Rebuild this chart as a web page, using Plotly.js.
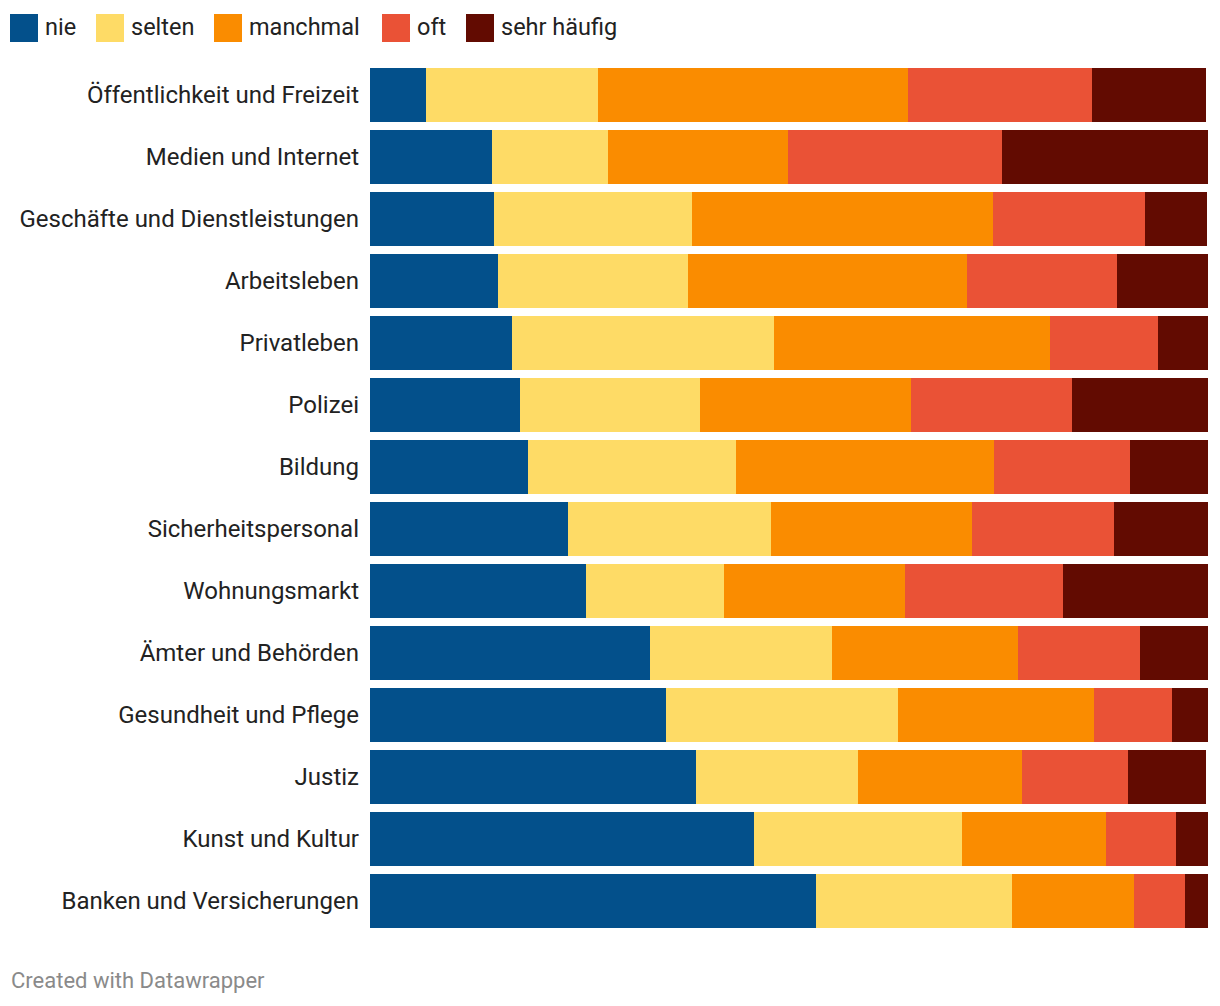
<!DOCTYPE html>
<html>
<head>
<meta charset="utf-8">
<script src="https://cdn.plot.ly/plotly-3.0.1.min.js"></script>
<style>
  html, body { margin: 0; padding: 0; background: #fff; }
  #chart { width: 1220px; height: 1006px; }
</style>
</head>
<body>
<div id="chart"></div>
<script>
// ---- Data (percent shares) ----
const categories = [
  "Öffentlichkeit und Freizeit",
  "Medien und Internet",
  "Geschäfte und Dienstleistungen",
  "Arbeitsleben",
  "Privatleben",
  "Polizei",
  "Bildung",
  "Sicherheitspersonal",
  "Wohnungsmarkt",
  "Ämter und Behörden",
  "Gesundheit und Pflege",
  "Justiz",
  "Kunst und Kultur",
  "Banken und Versicherungen"
];
const seriesNames = ["nie", "selten", "manchmal", "oft", "sehr häufig"];
const nie        = [6.7, 14.6, 14.8, 15.3, 16.9, 17.9, 18.9, 23.6, 25.8, 33.4, 35.3, 38.9, 45.8, 53.2];
const selten     = [20.5, 13.8, 23.6, 22.7, 31.3, 21.5, 24.8, 24.3, 16.5, 21.7, 27.7, 19.3, 24.8, 23.4];
const manchmal   = [37.0, 21.5, 36.0, 33.2, 32.9, 25.1, 30.8, 23.9, 21.5, 22.2, 23.4, 19.6, 17.2, 14.6];
const oft        = [22.0, 25.5, 18.1, 17.9, 12.9, 19.3, 16.2, 17.0, 18.9, 14.6, 9.3, 12.6, 8.4, 6.0];
const sehrHaeufig= [13.6, 24.6, 7.4, 11.0, 6.0, 16.2, 9.3, 11.2, 17.4, 8.1, 4.3, 9.4, 3.8, 2.9];

const seriesValues = [nie, selten, manchmal, oft, sehrHaeufig];
const colors = ["#03508B", "#FEDB66", "#FA8C00", "#EA5236", "#620B01"];

// ---- Layout geometry (pixels) ----
const W = 1220, H = 1006;
const M = {l: 370, r: 12, t: 64, b: 74};
const plotW = W - M.l - M.r, plotH = H - M.t - M.b;
const px2x = px => (px - M.l) / plotW;
const py2y = py => (H - M.b - py) / plotH;

const traces = seriesNames.map((name, i) => ({
  type: "bar",
  orientation: "h",
  name: name,
  y: categories,
  x: seriesValues[i],
  marker: {color: colors[i], line: {width: 0}},
  hoverinfo: "name+x+y",
  showlegend: false
}));

// ---- Custom legend (squares + labels) ----
const legendSquares = [10, 96, 214, 382, 466];
const shapes = [];
const annotations = [];
seriesNames.forEach((name, i) => {
  const x0 = legendSquares[i];
  shapes.push({
    type: "rect", xref: "paper", yref: "paper",
    x0: px2x(x0), x1: px2x(x0 + 28),
    y0: py2y(42), y1: py2y(14),
    fillcolor: colors[i], line: {width: 0}
  });
  annotations.push({
    xref: "paper", yref: "paper",
    x: px2x(x0 + 33), y: py2y(27),
    xanchor: "left", yanchor: "middle",
    text: name, showarrow: false,
    font: {family: "Roboto, sans-serif", size: 23.5, color: "#222222"}
  });
});
annotations.push({
  xref: "paper", yref: "paper",
  x: px2x(9), y: py2y(980),
  xanchor: "left", yanchor: "middle",
  text: "Created with Datawrapper", showarrow: false,
  font: {family: "Roboto, sans-serif", size: 22, color: "#8a8a8a"}
});

const layout = {
  width: W, height: H,
  margin: M,
  barmode: "stack",
  bargap: 8 / 62,
  paper_bgcolor: "#ffffff",
  plot_bgcolor: "#ffffff",
  showlegend: false,
  font: {family: "Roboto, sans-serif", color: "#222222"},
  xaxis: {
    range: [0, 100],
    showgrid: false, zeroline: false, showline: false,
    showticklabels: false, ticks: "", fixedrange: true
  },
  yaxis: {
    type: "category",
    categoryorder: "array",
    categoryarray: categories,
    autorange: "reversed",
    showgrid: false, zeroline: false, showline: false,
    ticks: "",
    ticklabelstandoff: 10,
    tickfont: {family: "Roboto, sans-serif", size: 24, color: "#222222"},
    fixedrange: true
  },
  shapes: shapes,
  annotations: annotations
};

Plotly.newPlot("chart", traces, layout, {displayModeBar: false, staticPlot: true});
</script>
</body>
</html>
